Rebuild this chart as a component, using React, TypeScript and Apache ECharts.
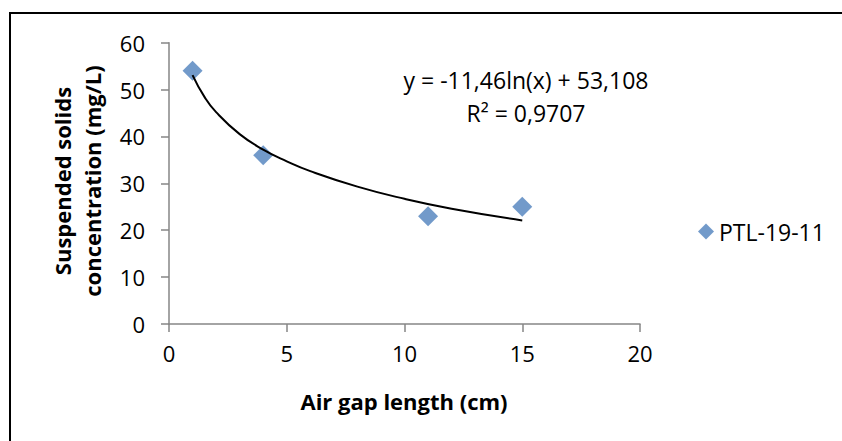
import React, { useEffect, useRef } from "react";
import * as echarts from "echarts";

const seriesName = "PTL-19-11";
const airGap = [1, 4, 11, 15];
const solids = [54, 36, 23, 25];
// trendline (y = -11,46ln(x) + 53,108)
const trendX = [1, 1.5, 2, 3, 4, 5, 6, 8, 10, 12, 15];
const trendY = [53.1, 48.5, 45.2, 40.5, 37.2, 34.7, 32.6, 29.3, 26.7, 24.6, 22.1];
const equationText = "y = -11,46ln(x) + 53,108";
const r2Text = "R² = 0,9707";
const xTitle = "Air gap length (cm)";
const yTitle = "Suspended solids\nconcentration (mg/L)";

const FONT = "'Open Sans', Lato, sans-serif";

export default function App() {
  const ref = useRef<HTMLDivElement>(null);
  useEffect(() => {
    if (!ref.current) return;
    const chart = echarts.init(ref.current, undefined, { renderer: "svg" });
    const axisLine = { show: true, lineStyle: { color: "#868686", width: 1.5 } };
    chart.setOption({
      animation: false,
      backgroundColor: "#ffffff",
      textStyle: { fontFamily: FONT },
      grid: { left: 169, top: 42.7, right: 202, bottom: 117 },
      xAxis: {
        type: "value",
        min: 0,
        max: 20,
        interval: 5,
        axisLine,
        axisTick: { show: true, inside: false, length: 8, lineStyle: { color: "#868686", width: 1.5 } },
        splitLine: { show: false },
        axisLabel: { color: "#000", fontSize: 22, fontFamily: FONT, margin: 18 },
      },
      yAxis: {
        type: "value",
        min: 0,
        max: 60,
        interval: 10,
        axisLine,
        axisTick: { show: true, inside: false, length: 8, lineStyle: { color: "#868686", width: 1.5 } },
        splitLine: { show: false },
        axisLabel: { color: "#000", fontSize: 22, fontFamily: FONT, margin: 24 },
      },
      legend: {
        left: 693,
        top: 215,
        icon: "diamond",
        itemWidth: 16,
        itemHeight: 16,
        itemGap: 4,
        textStyle: { fontSize: 23, color: "#000", fontFamily: FONT },
        data: [seriesName],
      },
      series: [
        {
          name: "trend",
          type: "line",
          data: trendX.map((x, i) => [x, trendY[i]]),
          smooth: true,
          showSymbol: false,
          symbol: "none",
          lineStyle: { color: "#000", width: 2 },
          z: 3,
        },
        {
          name: seriesName,
          type: "scatter",
          data: airGap.map((x, i) => [x, solids[i]]),
          symbol: "diamond",
          symbolSize: 20,
          itemStyle: { color: "#4F81BD" },
          z: 2,
        },
      ],
      graphic: [
        {
          type: "rect",
          shape: { x: 10, y: 13, width: 900, height: 600 },
          style: { fill: "none", stroke: "#000", lineWidth: 2 },
          silent: true,
        },
        {
          type: "text",
          x: 526,
          y: 80,
          style: { text: equationText, fontSize: 23, fontFamily: FONT, fill: "#000", align: "center", verticalAlign: "middle" },
        },
        {
          type: "text",
          x: 526,
          y: 113,
          style: { text: r2Text, fontSize: 23, fontFamily: FONT, fill: "#000", align: "center", verticalAlign: "middle" },
        },
        {
          type: "text",
          x: 404,
          y: 401,
          style: { text: xTitle, fontSize: 22, fontWeight: "bold", fontFamily: FONT, fill: "#000", align: "center", verticalAlign: "middle" },
        },
        {
          type: "text",
          x: 77,
          y: 181,
          rotation: Math.PI / 2,
          style: {
            text: yTitle,
            fontSize: 22,
            fontWeight: "bold",
            fontFamily: FONT,
            fill: "#000",
            align: "center",
            verticalAlign: "middle",
            lineHeight: 30,
          },
        },
      ],
    });
    return () => chart.dispose();
  }, []);
  return <div ref={ref} style={{ width: 842, height: 441, position: "absolute", left: 0, top: 0 }} />;
}
